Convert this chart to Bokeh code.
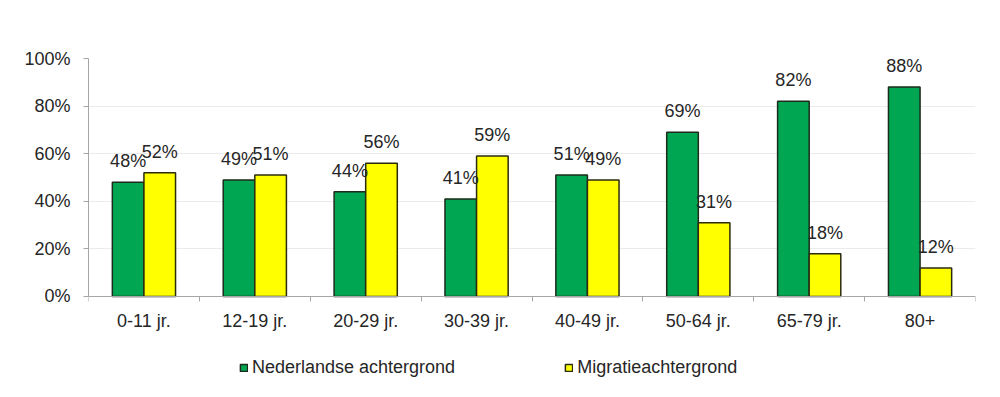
from bokeh.plotting import figure
from bokeh.models import (Range1d, FixedTicker, ColumnDataSource, Legend, LegendItem)
from bokeh.transform import dodge
from bokeh.core.properties import value
from bokeh.embed import file_html
from bokeh.resources import INLINE

categories = ["0-11 jr.", "12-19 jr.", "20-29 jr.", "30-39 jr.", "40-49 jr.",
              "50-64 jr.", "65-79 jr.", "80+"]
nederlandse = [48, 49, 44, 41, 51, 69, 82, 88]
migratie = [52, 51, 56, 59, 49, 31, 18, 12]
series_names = ["Nederlandse achtergrond", "Migratieachtergrond"]
y_ticks = [0, 20, 40, 60, 80, 100]

FONT = "Liberation Sans"
TXT = "#262626"
GREEN = "#00A651"
YELLOW = "#FFFF00"

n = len(categories)
pos = [i + 0.5 for i in range(n)]  # category centres on a numeric scale

src = ColumnDataSource(dict(
    pos=pos,
    ned=nederlandse,
    mig=migratie,
    ned_lbl=[f"{v}%" for v in nederlandse],
    mig_lbl=[f"{v}%" for v in migratie],
))

# The frame reaches below 0% so that the category labels and the legend sit inside it
p = figure(x_range=Range1d(0, n),
           y_range=Range1d(-39.5, 100),
           frame_width=887, frame_height=332,
           output_backend="svg", toolbar_location=None,
           min_border_left=88, min_border_right=17, min_border_top=58,
           min_border_bottom=0)
p.outline_line_color = None

bw = 0.285
r1 = p.vbar(x=dodge("pos", -bw / 2), top="ned", width=bw, source=src,
            fill_color=GREEN, line_color="#1c2b1c", line_width=1.5)
r2 = p.vbar(x=dodge("pos", bw / 2), top="mig", width=bw, source=src,
            fill_color=YELLOW, line_color="#2b2b10", line_width=1.5)

p.text(x=dodge("pos", -bw / 2), y="ned", text="ned_lbl", source=src,
       text_align="center", text_baseline="alphabetic", y_offset=-21,
       text_font=value(FONT), text_font_size="18px", text_color=TXT)
p.text(x=dodge("pos", bw / 2), y="mig", text="mig_lbl", source=src,
       text_align="center", text_baseline="alphabetic", y_offset=-21,
       text_font=value(FONT), text_font_size="18px", text_color=TXT)

# y axis
yax = p.yaxis[0]
yax.ticker = FixedTicker(ticks=y_ticks)
yax.bounds = (0, 100)
yax.major_label_overrides = {t: f"{t}%" for t in y_ticks}
yax.major_label_text_font = FONT
yax.major_label_text_font_size = "18px"
yax.major_label_text_color = TXT
yax.axis_line_color = "#a6a6a6"
yax.major_tick_line_color = "#a6a6a6"
yax.major_tick_in = 0
yax.major_tick_out = 5
yax.minor_tick_line_color = None
yax.major_label_standoff = 13

p.ygrid.ticker = FixedTicker(ticks=y_ticks)
p.ygrid.grid_line_color = "#ebebeb"
p.xgrid.grid_line_color = None

# x axis at 0%: labels at category centres, tick marks between categories
xax = p.xaxis[0]
xax.fixed_location = 0
xax.ticker = FixedTicker(ticks=pos, minor_ticks=list(range(n + 1)))
xax.major_label_overrides = {x: c for x, c in zip(pos, categories)}
xax.major_tick_line_color = None
xax.major_tick_in = 0
xax.major_tick_out = 5
xax.minor_tick_in = 0
xax.minor_tick_out = 5
xax.minor_tick_line_color = "#a6a6a6"
xax.axis_line_color = "#a6a6a6"
xax.major_label_text_font = FONT
xax.major_label_text_font_size = "18px"
xax.major_label_text_color = TXT
xax.major_label_standoff = 10

legend = Legend(items=[LegendItem(label=series_names[0], renderers=[r1]),
                       LegendItem(label=series_names[1], renderers=[r2])],
                orientation="horizontal", location=(151, 12),
                spacing=109, glyph_width=9, glyph_height=9, label_standoff=4,
                label_text_font=FONT, label_text_font_size="18px", label_text_color=TXT,
                label_height=18,
                border_line_color=None, background_fill_alpha=0, padding=4, margin=0)
p.add_layout(legend)

open("out.html", "w").write(file_html(p, INLINE))
